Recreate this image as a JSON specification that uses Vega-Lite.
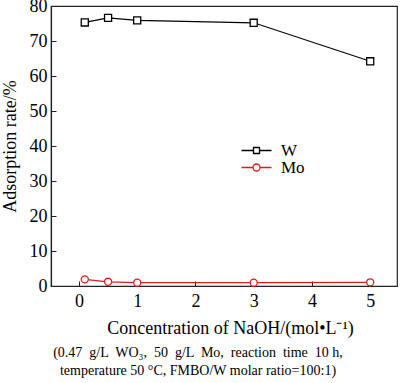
{
  "$schema": "https://vega.github.io/schema/vega-lite/v6.json",
  "width": 346,
  "height": 280,
  "autosize": {"type": "none"},
  "padding": {"left": 51, "top": 6, "right": 3, "bottom": 97},
  "background": "white",
  "config": {
    "font": "Liberation Serif",
    "view": {"stroke": "#222", "strokeWidth": 1.2},
    "axis": {
      "grid": false,
      "domainColor": "#222",
      "tickColor": "#222",
      "labelColor": "#000",
      "titleColor": "#000",
      "labelFont": "Liberation Serif",
      "titleFont": "Liberation Serif",
      "labelFontSize": 18,
      "titleFontSize": 18,
      "titleFontWeight": "normal",
      "tickSize": -5,
      "domainWidth": 1.2
    }
  },
  "title": {
    "text": ["(0.47 \u00a0g/L \u00a0WO₃, \u00a050 \u00a0g/L \u00a0Mo, \u00a0reaction \u00a0time \u00a010 h,", "temperature 50 °C, FMBO/W molar ratio=100:1)"],
    "orient": "bottom",
    "anchor": "middle",
    "font": "Liberation Serif",
    "fontSize": 14,
    "fontWeight": "normal",
    "color": "#000",
    "lineHeight": 18,
    "offset": 9,
    "dx": -26
  },
  "data": {
    "values": [
      {"c": 0.1, "rate": 75.3, "s": "W"},
      {"c": 0.5, "rate": 76.6, "s": "W"},
      {"c": 1, "rate": 75.9, "s": "W"},
      {"c": 3, "rate": 75.2, "s": "W"},
      {"c": 5, "rate": 64.2, "s": "W"},
      {"c": 0.1, "rate": 1.9, "s": "Mo"},
      {"c": 0.5, "rate": 1.2, "s": "Mo"},
      {"c": 1, "rate": 0.95, "s": "Mo"},
      {"c": 3, "rate": 0.95, "s": "Mo"},
      {"c": 5, "rate": 1.05, "s": "Mo"}
    ]
  },
  "encoding": {
    "x": {
      "field": "c", "type": "quantitative",
      "scale": {"domain": [-0.48, 5.46], "nice": false, "zero": false},
      "axis": {"values": [0, 1, 2, 3, 4, 5], "title": "Concentration of NaOH/(mol•L⁻¹)", "labelPadding": 11, "titleY": 47, "titleX": 179, "titleBaseline": "alphabetic"}
    },
    "y": {
      "field": "rate", "type": "quantitative",
      "scale": {"domain": [0, 80], "nice": false},
      "axis": {"values": [0, 10, 20, 30, 40, 50, 60, 70, 80], "title": "Adsorption rate/%", "labelPadding": 9, "titleX": -41, "titleBaseline": "middle"}
    },
    "color": {
      "field": "s", "type": "nominal",
      "scale": {"domain": ["W", "Mo"], "range": ["#000000", "#e31a1c"]},
      "legend": {
        "title": null,
        "orient": "none",
        "legendX": 197,
        "legendY": 136,
        "labelFont": "Liberation Serif",
        "labelFontSize": 17,
        "labelColor": "#000",
        "labelOffset": 16,
        "symbolSize": 64,
        "rowPadding": -1,
        "symbolStrokeWidth": 1.3,
        "symbolFillColor": "white",
        "encode": {
          "symbols": {
            "update": {
              "shape": {"signal": "datum.value == 'W' ? 'M-3.75,0H-0.75M0.75,0H3.75M-0.75,-0.75H0.75V0.75H-0.75Z' : 'M-3.75,0H-0.875M0.875,0H3.75M0.875,0A0.875,0.875,0,1,1,-0.875,0A0.875,0.875,0,1,1,0.875,0Z'"},
              "fill": {"value": "white"},
              "fillOpacity": {"value": 1},
              "opacity": {"value": 1}
            }
          }
        }
      }
    }
  },
  "layer": [
    {
      "mark": {"type": "line", "strokeWidth": 1.2}
    },
    {
      "mark": {"type": "point", "filled": false, "fill": "white", "fillOpacity": 1, "opacity": 1, "strokeWidth": 1.3, "size": 50},
      "encoding": {
        "shape": {"condition": {"test": "datum.s == 'W'", "value": "square"}, "value": "circle"}
      }
    }
  ]
}
